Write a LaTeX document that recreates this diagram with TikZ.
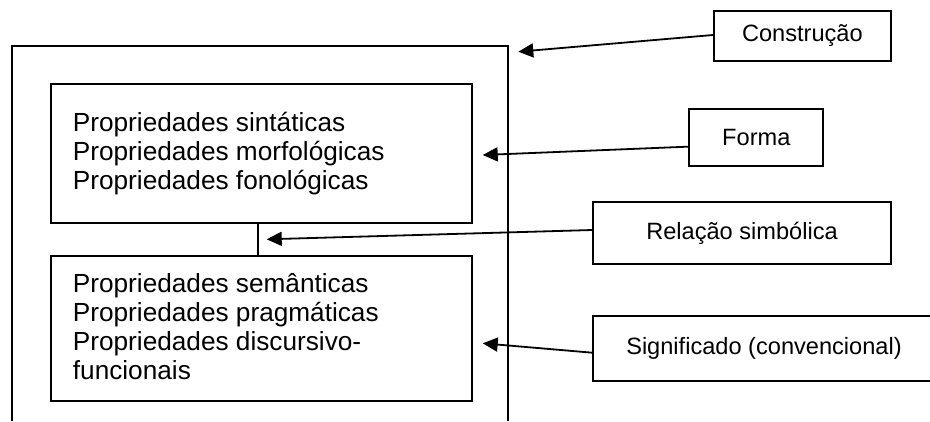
\documentclass[tikz,border=0pt]{standalone}
\usepackage{fontspec}
\setmainfont{Liberation Sans}
\usetikzlibrary{arrows.meta}

\begin{document}
\begin{tikzpicture}[x=1pt,y=-1pt,
  frame/.style={draw=black,line width=1.9pt},
  propbox/.style={frame,rectangle,minimum width=421.3pt,inner sep=0pt},
  proptext/.style={anchor=base west,align=left,inner sep=0pt,
    font=\fontsize{26.2}{28.7}\selectfont},
  labelbox/.style={frame,rectangle,inner sep=0pt,
    font=\fontsize{23.6}{27}\selectfont},
  pointer/.style={line width=1.8pt,-{Triangle[length=15pt,width=14pt]}}]

\useasboundingbox (0,0) rectangle (930,421);
\clip (0,0) rectangle (930,421);

% the open outer frame of the construction
\draw[frame] (12.3,421) -- (12.3,45.7) -- (507.7,45.7) -- (507.7,421);

% form and meaning boxes
\node[propbox,minimum height=139pt] (form) at (261.35,153.8) {};
\node[propbox,minimum height=145pt] (meaning) at (261.35,328.5) {};
\draw[frame] ([xshift=-3.6pt]form.south) -- ([xshift=-3.6pt]meaning.north);

% multi-line text: the base anchor sits on the last line
\node[proptext] (formtext) at (72.7,189.1)
  {Propriedades sintáticas\\Propriedades morfológicas\\Propriedades fonológicas};
\node[proptext,font=\fontsize{26.2}{29.0}\selectfont] (meaningtext) at (72.7,379.3)
  {Propriedades semânticas\\Propriedades pragmáticas\\Propriedades discursivo-\\funcionais};

% labels on the right
\node[labelbox,minimum width=176.7pt,minimum height=50pt] (constr) at (802.35,35.7) {Construção};
\node[labelbox,minimum width=134pt,minimum height=56.7pt] (forma) at (756.3,137.65) {Forma};
\node[labelbox,minimum width=297.4pt,minimum height=62.3pt] (relacao) at (742,232.85) {Relação simbólica};
\node[labelbox,minimum width=341.4pt,minimum height=65.3pt] (signif) at (764,348.35) {Significado (convencional)};

% arrow targets
\coordinate (tipC) at (518.3,51.7);
\coordinate (tipF) at (482.7,155);
\coordinate (tipR) at (266.7,239.3);
\coordinate (tipS) at (482.7,343.3);

\draw[pointer] ([yshift=0.7pt]constr.west) -- (tipC);
\draw[pointer] ([yshift=-9pt]forma.west) -- (tipF);
\draw[pointer] ([yshift=2.85pt]relacao.west) -- (tipR);
\draw[pointer] ([yshift=-4.35pt]signif.west) -- (tipS);
\end{tikzpicture}
\end{document}
